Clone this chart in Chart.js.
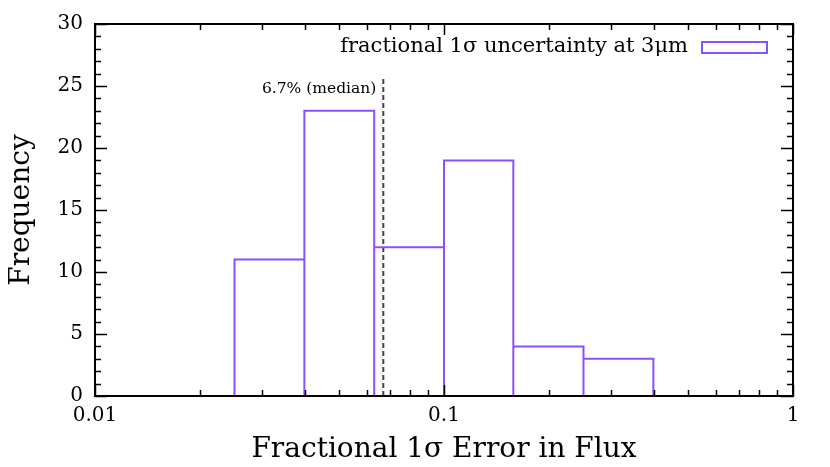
<!DOCTYPE html>
<html lang="en">
<head>
<meta charset="UTF-8">
<title>Fractional 1σ Error in Flux</title>
<script src="https://cdn.jsdelivr.net/npm/chart.js"></script>
<style>
    body { margin: 0; background: #fff; }
    #wrap { width: 830px; height: 467px; }
</style>
</head>
<body>
<div id="wrap"><canvas id="histChart"></canvas></div>
<script>
    // histogram bins, 0.2 dex wide
    const binEdges = [0.0251, 0.0398, 0.0631, 0.1, 0.158, 0.251, 0.398];
    const binCounts = [11, 23, 12, 19, 4, 3];
    const medianValue = 0.067;
    const medianTop = 25.8;
    const medianLabel = "6.7% (median)";
    const seriesLabel = "fractional 1σ uncertainty at 3μm";

    // axis ticks
    const xTickLabels = [0.01, 0.1, 1];
    const xMinorTicks = [0.02, 0.03, 0.04, 0.05, 0.06, 0.07, 0.08, 0.09,
                         0.2, 0.3, 0.4, 0.5, 0.6, 0.7, 0.8, 0.9];
    const yTickLabels = [0, 5, 10, 15, 20, 25, 30];
    const yMinorTicks = [1, 2, 3, 4, 6, 7, 8, 9, 11, 12, 13, 14, 16, 17, 18, 19,
                         21, 22, 23, 24, 26, 27, 28, 29];

    const purple = '#8a4fff';
    const serif = "'DejaVu Serif', serif";

    // outline of the boxes
    const histPoints = [];
    binCounts.forEach((c, i) => {
        histPoints.push({ x: binEdges[i], y: 0 });
        histPoints.push({ x: binEdges[i], y: c });
        histPoints.push({ x: binEdges[i + 1], y: c });
        histPoints.push({ x: binEdges[i + 1], y: 0 });
    });

    const medianPoints = [{ x: medianValue, y: 0 }, { x: medianValue, y: medianTop }];

    // frame, inward ticks, legend and median text
    const decorPlugin = {
        id: 'decor',
        afterDraw(chart) {
            const ctx = chart.ctx;
            const a = chart.chartArea;
            const xs = chart.scales.x, ys = chart.scales.y;
            ctx.save();
            ctx.strokeStyle = '#000';
            ctx.lineWidth = 2;
            ctx.strokeRect(a.left, a.top, a.right - a.left, a.bottom - a.top);

            ctx.lineWidth = 1.5;
            ctx.beginPath();
            const xt = (v, len) => {
                const p = Math.round(xs.getPixelForValue(v)) + 0.5;
                ctx.moveTo(p, a.bottom); ctx.lineTo(p, a.bottom - len);
                ctx.moveTo(p, a.top); ctx.lineTo(p, a.top + len);
            };
            const yt = (v, len) => {
                const p = Math.round(ys.getPixelForValue(v)) + 0.5;
                ctx.moveTo(a.left, p); ctx.lineTo(a.left + len, p);
                ctx.moveTo(a.right, p); ctx.lineTo(a.right - len, p);
            };
            xTickLabels.forEach(v => xt(v, 11));
            xMinorTicks.forEach(v => xt(v, 6));
            yTickLabels.forEach(v => yt(v, 12));
            yMinorTicks.forEach(v => yt(v, 6));
            ctx.stroke();

            // legend
            ctx.fillStyle = '#000';
            ctx.font = "21px " + serif;
            ctx.textAlign = 'right';
            ctx.textBaseline = 'middle';
            ctx.fillText(seriesLabel, 688, 47);
            ctx.strokeStyle = purple;
            ctx.lineWidth = 2;
            ctx.strokeRect(702, 42, 65, 11);

            // median label
            ctx.font = "15.5px " + serif;
            ctx.fillText(medianLabel, xs.getPixelForValue(medianValue) - 7, ys.getPixelForValue(24.8));
            ctx.restore();
        }
    };

    Chart.defaults.color = '#000';
    Chart.defaults.font.family = serif;

    const ctx = document.getElementById('histChart').getContext('2d');
    const histChart = new Chart(ctx, {
        type: 'scatter',
        data: {
            datasets: [
                {
                    label: seriesLabel,
                    data: histPoints,
                    showLine: true,
                    borderColor: purple,
                    borderWidth: 2,
                    pointRadius: 0,
                    fill: false
                },
                {
                    label: 'median',
                    data: medianPoints,
                    showLine: true,
                    borderColor: '#444',
                    borderWidth: 2,
                    borderDash: [5, 3],
                    pointRadius: 0,
                    fill: false
                }
            ]
        },
        options: {
            responsive: true,
            maintainAspectRatio: false,
            animation: false,
            layout: { padding: { top: 24, right: 37, left: 0, bottom: 0 } },
            plugins: {
                legend: { display: false },
                tooltip: { enabled: false }
            },
            scales: {
                x: {
                    type: 'logarithmic',
                    min: 0.01,
                    max: 1,
                    afterBuildTicks: s => { s.ticks = xTickLabels.map(v => ({ value: v })); },
                    afterFit: s => { s.height = 71; },
                    grid: { display: false, drawTicks: false },
                    border: { display: false },
                    ticks: {
                        padding: 8,
                        font: { size: 20 },
                        maxRotation: 0,
                        callback: v => String(v)
                    },
                    title: {
                        display: true,
                        text: 'Fractional 1σ Error in Flux',
                        font: { size: 28 },
                        padding: { top: -1, bottom: 0 }
                    }
                },
                y: {
                    min: 0,
                    max: 30,
                    afterBuildTicks: s => { s.ticks = yTickLabels.map(v => ({ value: v })); },
                    afterFit: s => { s.width = 95; },
                    grid: { display: false, drawTicks: false },
                    border: { display: false },
                    ticks: { padding: 12, font: { size: 20 } },
                    title: {
                        display: true,
                        text: 'Frequency',
                        font: { size: 28 },
                        padding: { top: 5, bottom: 0 }
                    }
                }
            }
        },
        plugins: [decorPlugin]
    });
</script>
</body>
</html>
